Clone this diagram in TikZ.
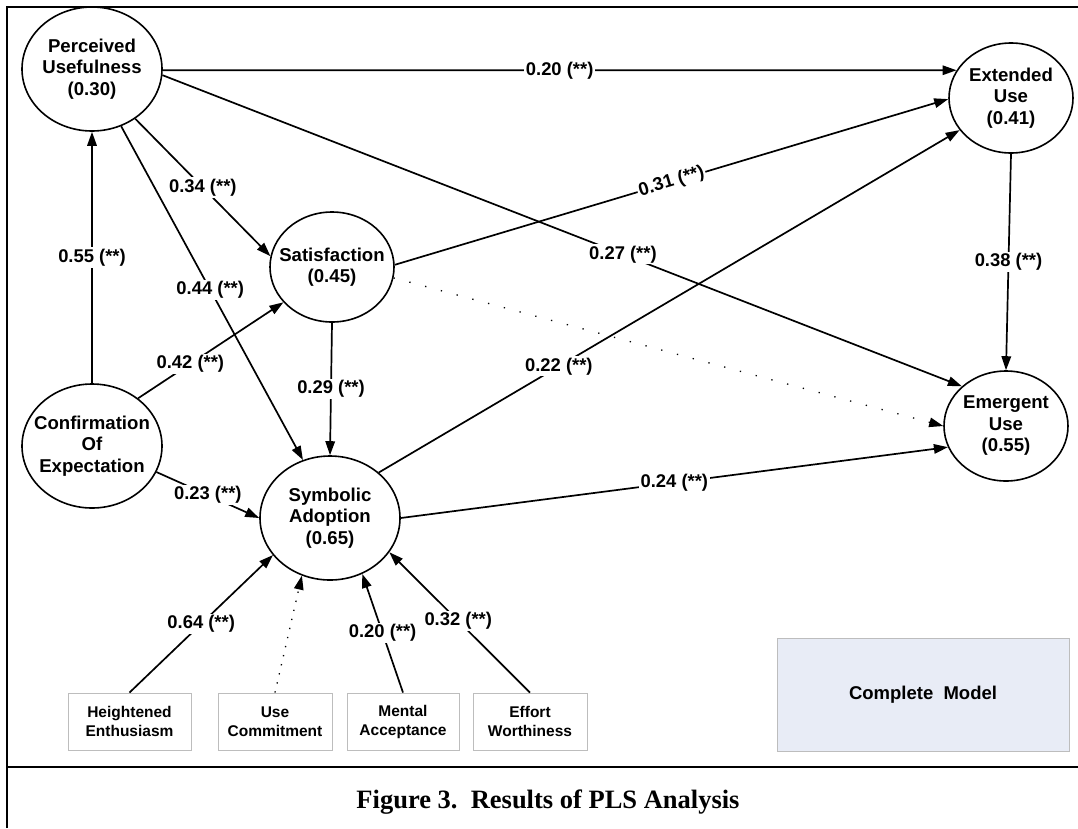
\documentclass[tikz,border=0pt]{standalone}
\usepackage{fontspec}
\setmainfont{Liberation Sans}
\newfontfamily\serifcap{Liberation Serif}
\usetikzlibrary{shapes.geometric,arrows.meta}
\definecolor{modelfill}{HTML}{E8ECF6}
\definecolor{boxgray}{HTML}{BDBDBD}
\begin{document}
\begin{tikzpicture}[x=1pt,y=-1pt,
  lat/.style={ellipse,draw,line width=1.6pt,inner sep=0pt,minimum width=140pt,minimum height=124pt},
  latS/.style={lat,minimum width=124pt,minimum height=110pt},
  ntxt/.style={font=\bfseries\fontsize{18.6}{21.5}\selectfont,align=center,inner sep=0pt},
  ind/.style={rectangle,draw=boxgray,line width=0.9pt,minimum height=57pt,inner sep=0pt,font=\bfseries\fontsize{15.5}{19}\selectfont,align=center},
  conn/.style={line width=1.7pt,-{Triangle[length=14pt,width=9.5pt]}},
  dotc/.style={conn,line width=1.3pt,dash pattern=on 1.3pt off 8pt},
  dotw/.style={conn,line width=1.3pt,dash pattern=on 1.3pt off 15pt},
  coef/.style={fill=white,inner sep=1.5pt,font=\bfseries\fontsize{18.4}{21.5}\selectfont},
]
\fill[white] (0,0) rectangle (1078,828);
\useasboundingbox (0,0) rectangle (1078,828);

% frame
\draw[line width=2.2pt] (7,828) -- (7,7) -- (1078,7);
\draw[line width=2.2pt] (7,767) -- (1078,767);

% latent constructs
\node[lat, label={[ntxt]center:Perceived\\Usefulness\\(0.30)}] (PU) at (92,69) {};
\node[latS,label={[ntxt]center:Satisfaction\\(0.45)}] (Sat) at (332,267) {};
\node[lat, label={[ntxt]center:Confirmation\\Of\\Expectation}] (CE) at (92,446) {};
\node[lat, label={[ntxt]center:Symbolic\\Adoption\\(0.65)}] (SA) at (330,518) {};
\node[latS,label={[ntxt]center:Extended\\Use\\(0.41)}] (ExU) at (1011,98) {};
\node[latS,label={[ntxt]center:Emergent\\Use\\(0.55)}] (EmU) at (1006,426) {};

% indicators
\node[ind,minimum width=123pt] (HE) at (129.5,721.5) {Heightened\\Enthusiasm};
\node[ind,minimum width=114pt] (UC) at (275,721.5) {Use\\Commitment};
\node[ind,minimum width=112pt] (MA) at (403,721.5) {Mental\\Acceptance};
\node[ind,minimum width=114pt] (EW) at (530,721.5) {Effort\\Worthiness};

\node[rectangle,draw=boxgray,line width=0.9pt,fill=modelfill,minimum width=292pt,minimum height=113pt,
      font=\bfseries\fontsize{18.5}{22}\selectfont] (CM) at (923,694.5) {Complete\ \ Model};

% paths
\draw[conn] (CE.90) -- node[coef,pos=0.5] {0.55 (**)} (PU.270);
\draw[conn] (PU.-1.6) -- node[coef,pos=0.5] {0.20 (**)} (ExU.153.4);
\draw[conn] (PU.-49) -- node[coef,pos=0.5] {0.34 (**)} (Sat.170.8);
\draw[conn] (PU.-63) -- node[coef,pos=0.49] {0.44 (**)} (SA.115);
\draw[conn] (PU.-5) -- node[coef,pos=0.576] {0.27 (**)} (EmU.138.3);
\draw[conn] (Sat.2) -- node[coef,pos=0.5,sloped] {0.31 (**)} (ExU.181);
\draw[dotw] (Sat.-10) -- (EmU.180);
\draw[conn] (Sat.-90) -- node[coef,pos=0.5] {0.29 (**)} (SA.90);
\draw[conn] (CE.46) -- node[coef,pos=0.36] {0.42 (**)} (Sat.216);
\draw[conn] (CE.-22.6) -- node[coef,pos=0.5] {0.23 (**)} (SA.180);
\draw[conn] (SA.43.8) -- node[coef,pos=0.31] {0.22 (**)} (ExU.212.4);
\draw[conn] (SA.0) -- node[coef,pos=0.5] {0.24 (**)} (EmU.200);
\draw[conn] (ExU.-90) -- node[coef,pos=0.5] {0.38 (**)} (EmU.90);
\draw[conn] (HE.north) -- node[coef,pos=0.5] {0.64 (**)} (SA.213);
\draw[dotc] (UC.north) -- (SA.244.6);
\draw[conn] (MA.north) -- node[coef,pos=0.5] {0.20 (**)} (SA.-60.4);
\draw[conn] (EW.north) -- node[coef,pos=0.51] {0.32 (**)} (SA.-30.8);

% caption
\node[anchor=base,inner sep=0pt,font=\serifcap\bfseries\fontsize{26.5}{30}\selectfont] (cap) at (548,808) {Figure 3.\ \ Results of PLS Analysis};
\end{tikzpicture}
\end{document}
